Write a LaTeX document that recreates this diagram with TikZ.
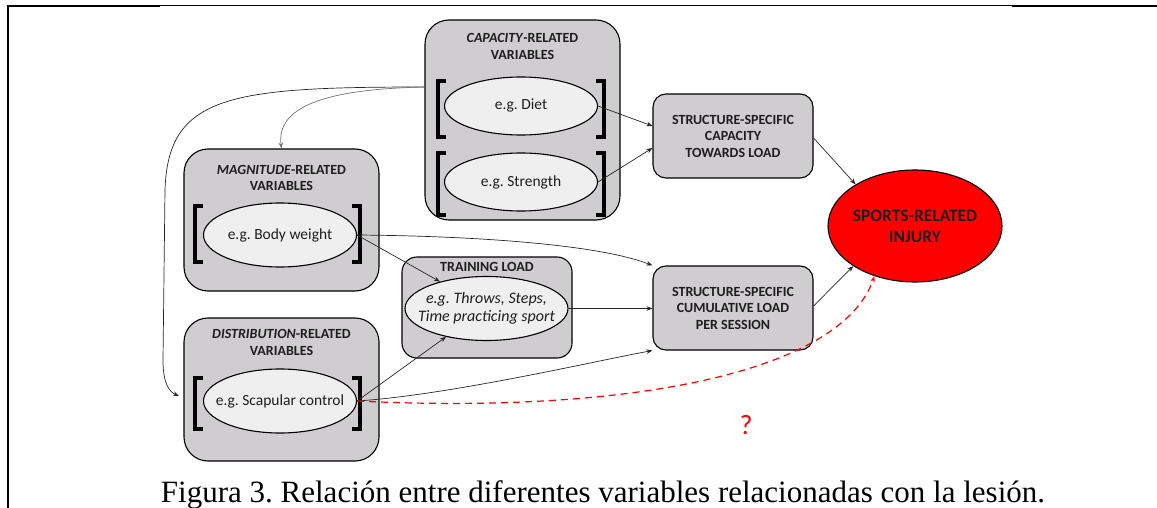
\documentclass[tikz,border=0pt]{standalone}
\usepackage{fontspec}
\setmainfont{Liberation Serif}
\newfontfamily\calfont{Carlito}
\usetikzlibrary{arrows.meta,shapes.geometric}
\definecolor{boxgray}{HTML}{CFCDCF}
\definecolor{ellgray}{HTML}{EFEFEF}
\definecolor{txtgray}{HTML}{1E1E1E}
\frenchspacing
\tikzset{
  bigbox/.style={draw=black, line width=1.1pt, fill=boxgray, rounded corners=24pt, inner sep=0pt},
  outbox/.style={draw=black, line width=1.1pt, fill=boxgray, rounded corners=13pt, inner sep=0pt, minimum width=160pt, minimum height=84pt, align=center, font=\calfont\bfseries\fontsize{14}{16.5}\selectfont, text=txtgray},
  boxtitle/.style={align=center, font=\calfont\bfseries\fontsize{14}{16.5}\selectfont, text=txtgray, inner sep=0pt},
  ell/.style={ellipse, draw=black, line width=1.1pt, fill=ellgray, inner sep=0pt, minimum width=153pt, minimum height=60pt},
  elltext/.style={align=center, font=\calfont\fontsize{15.5}{18}\selectfont, text=txtgray, inner sep=0pt},
  brk/.style={line width=4pt, line cap=butt, line join=miter},
  conn/.style={-{Stealth[length=6pt,width=4.5pt]}, line width=0.7pt, draw=black!85},
  frame/.style={line width=2pt, draw=black},
}
\begin{document}
\begin{tikzpicture}[x=1pt,y=-1pt]
\useasboundingbox (0,0) rectangle (1157,508);
% frame
\draw[frame] (8,508) -- (8,6) -- (160,6);
\draw[line width=1pt] (160,6) -- (1012,6);
\draw[frame] (1012,6) -- (1157,6);

% capacity box
\node[bigbox, minimum width=195pt, minimum height=200pt] (capbox) at (522.5,120) {};
\node[boxtitle] (captitle) at (522.5,46.5) {\textit{CAPACITY}-RELATED\\VARIABLES};
\node[ell, minimum height=58pt, label={[elltext]center:e.g. Diet}] (diet) at (521,106) {};
\node[ell, minimum height=58pt, label={[elltext]center:e.g. Strength}] (strength) at (521,182) {};
\draw[brk] (446,81) -- (438,81) -- (438,137) -- (446,137);
\draw[brk] (596,81) -- (604,81) -- (604,137) -- (596,137);
\draw[brk] (446,153) -- (438,153) -- (438,215) -- (446,215);
\draw[brk] (596,153) -- (604,153) -- (604,215) -- (596,215);

% magnitude box
\node[bigbox, minimum width=195pt, minimum height=142pt] (magbox) at (281.5,220) {};
\node[boxtitle] (magtitle) at (281.5,178) {\textit{MAGNITUDE}-RELATED\\VARIABLES};
\node[ell, minimum height=64pt, label={[elltext]center:e.g. Body weight}] (body) at (280,235) {};
\draw[brk] (203,206) -- (195,206) -- (195,262) -- (203,262);
\draw[brk] (352,206) -- (360,206) -- (360,262) -- (352,262);

% distribution box
\node[bigbox, minimum width=195pt, minimum height=143pt] (disbox) at (281.5,389.5) {};
\node[boxtitle] (distitle) at (281.5,342.5) {\textit{DISTRIBUTION}-RELATED\\VARIABLES};
\node[ell, minimum height=64pt, label={[elltext]center:e.g. Scapular control}] (scap) at (280,401) {};
\draw[brk] (203,378) -- (195,378) -- (195,429) -- (203,429);
\draw[brk] (352,378) -- (360,378) -- (360,429) -- (352,429);

% training load
\node[bigbox, rounded corners=15pt, minimum width=170pt, minimum height=101pt] (trbox) at (487,307.5) {};
\node[boxtitle] (trtitle) at (487,267) {TRAINING LOAD};
\node[ell, minimum width=163pt, minimum height=64pt, label={[elltext, font=\calfont\itshape\fontsize{16}{18.5}\selectfont]center:e.g. Throws, Steps,\\Time practicing sport}] (train) at (486.5,308.5) {};

% outcome boxes
\node[outbox] (capload) at (733,136) {STRUCTURE-SPECIFIC\\CAPACITY\\TOWARDS LOAD};
\node[outbox] (cumload) at (733,308) {STRUCTURE-SPECIFIC\\CUMULATIVE LOAD\\PER SESSION};

% injury
\node[ellipse, draw=black, line width=1.1pt, fill=red, minimum width=174pt, minimum height=112pt, inner sep=0pt, label={[align=center, inner sep=0pt, font=\calfont\bfseries\fontsize{17.5}{21}\selectfont, text=txtgray]center:SPORTS-RELATED\\INJURY}] (injury) at (915,226) {};

% connectors
\coordinate (c1) at (425,87);
\coordinate (scapin) at (179,396);
\draw[conn] (c1) .. controls (230,87) and (168,95) .. (165,190) -- (163,360) .. controls (163,385) and (170,392) .. (scapin);
\draw[conn, draw=black!55] (c1) .. controls (330,89) and (276,105) .. (magbox.north);
\draw[conn] (diet.east) -- (capload.west |- 0,126);
\draw[conn] (strength.east) -- (capload.west |- 0,148);
\draw[conn] (capload.east |- 0,138) -- (injury.145);
\draw[conn] (body.east) .. controls (480,236) and (600,245) .. (cumload.north west);
\draw[conn] (body.east) -- (train.150);
\draw[conn] (scap.east) -- (train.215);
\draw[conn] (scap.east) .. controls (450,395) and (600,360) .. (cumload.south west);
\draw[conn] (train.east) -- (cumload.west |- train.east);
\draw[conn] (cumload.east |- 0,306) -- (injury.213);
\draw[conn, draw=red, dashed, dash pattern=on 7pt off 5pt, line width=1.2pt] (scap.east) .. controls (620,414) and (840,375) .. (injury.231);
\node[text=red, font=\calfont\fontsize{28}{30}\selectfont, inner sep=0pt] (q) at (746,425) {?};

% caption
\node[font=\fontsize{31}{33}\selectfont, anchor=base, inner sep=0pt] (cap) at (603,502) {Figura 3. Relación entre diferentes variables relacionadas con la lesión.};
\end{tikzpicture}
\end{document}
